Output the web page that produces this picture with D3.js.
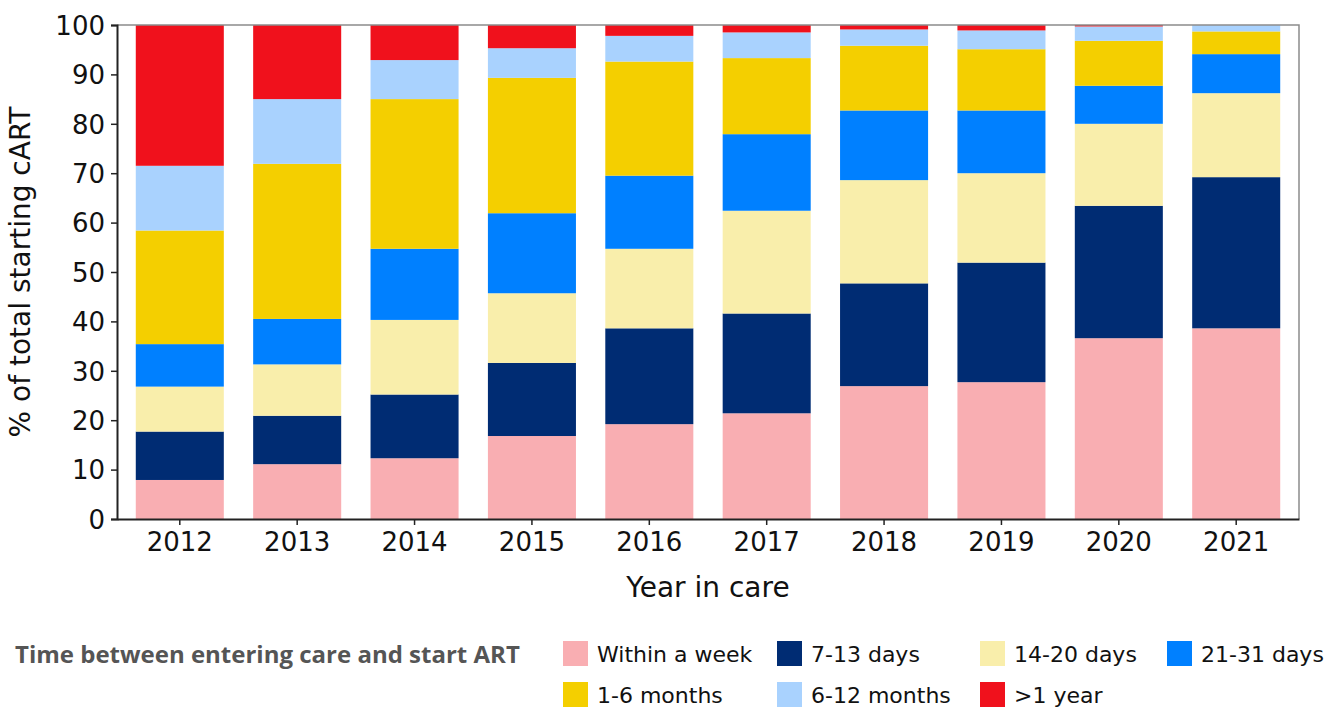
<!DOCTYPE html>
<html>
<head>
<meta charset="utf-8">
<style>
  body { margin: 0; background: #fff; }
  svg { display: block; font-family: "DejaVu Sans", Verdana, sans-serif; }
</style>
</head>
<body>
<svg width="1340" height="713"></svg>
<script src="https://d3js.org/d3.v7.min.js"></script>
<script>

	// Data (% of total starting cART per year).
	var years = ["2012", "2013", "2014", "2015", "2016", "2017", "2018", "2019", "2020", "2021"];
	var categories = ["Within a week", "7-13 days", "14-20 days", "21-31 days", "1-6 months", "6-12 months", ">1 year"];
	var withinWeek = [7.9, 11.1, 12.3, 16.8, 19.2, 21.4, 26.9, 27.7, 36.6, 38.6];
	var days7to13  = [9.8, 9.8, 12.9, 14.8, 19.4, 20.2, 20.8, 24.2, 26.8, 30.6];
	var days14to20 = [9.1, 10.4, 15.1, 14.1, 16.1, 20.8, 20.9, 18.1, 16.6, 17.0];
	var days21to31 = [8.6, 9.2, 14.4, 16.2, 14.8, 15.5, 14.1, 12.7, 7.7, 7.9];
	var months1to6 = [23.0, 31.4, 30.3, 27.4, 23.1, 15.4, 13.1, 12.4, 9.1, 4.6];
	var months6to12 = [13.1, 13.1, 7.9, 6.0, 5.2, 5.2, 3.3, 3.8, 2.9, 1.3];
	var overYear   = [28.5, 15.0, 7.1, 4.7, 2.2, 1.5, 0.9, 1.1, 0.3, 0.0];
	var yTicks = [0, 10, 20, 30, 40, 50, 60, 70, 80, 90, 100];
	var colors = ["#f9aeb2", "#002c73", "#f9eeab", "#0080ff", "#f4cf00", "#a9d2fe", "#f0111c"];

	var seriesValues = [withinWeek, days7to13, days14to20, days21to31, months1to6, months6to12, overYear];

	// Build rows for the stack layout.
	var rows = years.map(function(y, i) {
		var r = {year: y};
		categories.forEach(function(c, k) { r[c] = seriesValues[k][i]; });
		return r;
	});

	var svg = d3.select("svg"),
		plotLeft = 117, plotRight = 1299, plotTop = 25, plotBottom = 519;

	var x = d3.scaleBand()
		.domain(years)
		.range([plotLeft, plotRight])
		.paddingInner(0.25)
		.paddingOuter(0.16);

	var y = d3.scaleLinear()
		.domain([0, 100])
		.range([plotBottom, plotTop]);

	var color = d3.scaleOrdinal().domain(categories).range(colors);

	var stacked = d3.stack().keys(categories)(rows);

	// Bars.
	svg.append("g")
		.selectAll("g")
		.data(stacked)
		.enter().append("g")
			.attr("fill", function(d) { return color(d.key); })
		.selectAll("rect")
		.data(function(d) { return d; })
		.enter().append("rect")
			.attr("x", function(d) { return x(d.data.year); })
			.attr("width", x.bandwidth())
			.attr("y", function(d) { return y(Math.min(d[1], 100)); })
			.attr("height", function(d) { return Math.max(0, y(d[0]) - y(Math.min(d[1], 100))); });

	// Top and right border of the plot.
	svg.append("path")
		.attr("d", "M" + plotLeft + "," + plotTop + "H" + plotRight + "V" + plotBottom)
		.attr("fill", "none")
		.attr("stroke", "#8c8c8c")
		.attr("stroke-width", 1.5);

	// Axes.
	var yAxis = svg.append("g")
		.attr("transform", "translate(" + plotLeft + ",0)")
		.call(d3.axisLeft(y).tickValues(yTicks).tickSize(6).tickPadding(6));

	var xAxis = svg.append("g")
		.attr("transform", "translate(0," + plotBottom + ")")
		.call(d3.axisBottom(x).tickSize(6).tickPadding(8).tickSizeOuter(0));

	[yAxis, xAxis].forEach(function(a) {
		a.select(".domain").attr("stroke", "#222").attr("stroke-width", 2);
		a.selectAll(".tick line").attr("stroke", "#222").attr("stroke-width", 1.5);
		a.selectAll("text")
			.attr("fill", "#111")
			.style("font-size", "26px")
			.style("font-family", "'DejaVu Sans', Verdana, sans-serif");
	});
	yAxis.selectAll("text").attr("dy", "0.36em");

	// Axis titles.
	svg.append("text")
		.attr("x", (plotLeft + plotRight) / 2)
		.attr("y", 597)
		.attr("text-anchor", "middle")
		.attr("fill", "#111")
		.style("font-size", "28px")
		.text("Year in care");

	svg.append("text")
		.attr("transform", "translate(30," + ((plotTop + plotBottom) / 2) + ") rotate(-90)")
		.attr("text-anchor", "middle")
		.attr("fill", "#111")
		.style("font-size", "28px")
		.text("% of total starting cART");

	// Legend.
	svg.append("text")
		.attr("x", 15)
		.attr("y", 663)
		.attr("fill", "#555")
		.style("font-family", "'Open Sans', sans-serif")
		.style("font-weight", "bold")
		.style("font-size", "24px")
		.text("Time between entering care and start ART");

	var legendX = [563, 777, 980, 1167, 563, 777, 980],
		legendY = [641, 641, 641, 641, 682, 682, 682];

	var legend = svg.append("g")
		.selectAll("g")
		.data(categories)
		.enter().append("g")
			.attr("transform", function(d, i) { return "translate(" + legendX[i] + "," + legendY[i] + ")"; });

	legend.append("rect")
		.attr("width", 25)
		.attr("height", 25)
		.attr("fill", function(d) { return color(d); });

	legend.append("text")
		.attr("x", 34)
		.attr("y", 21)
		.attr("fill", "#111")
		.style("font-size", "22px")
		.text(function(d) { return d; });

</script>
</body>
</html>
